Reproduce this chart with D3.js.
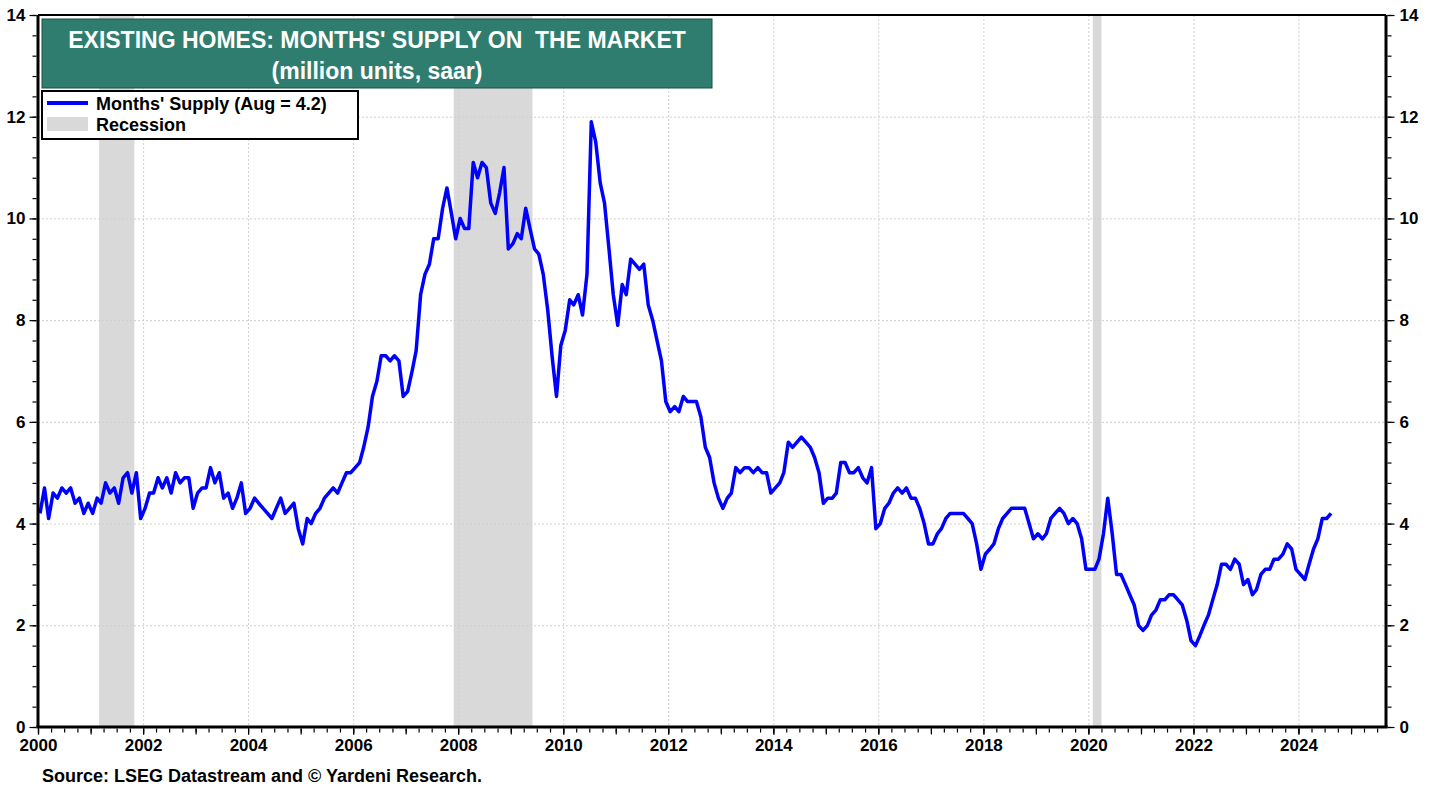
<!DOCTYPE html>
<html>
<head>
<meta charset="utf-8">
<script src="https://cdn.jsdelivr.net/npm/d3@7"></script>
<style>
body { margin: 0; background: #fff; }
svg { display: block; font-family: "Liberation Sans", Arial, sans-serif; font-weight: bold; }
</style>
</head>
<body>
<script>
// monthly months' supply, starting Jan 2000
var startYear = 2000;
var monthsSupply = [
  4.2, 4.7, 4.1, 4.6, 4.5, 4.7, 4.6, 4.7, 4.4, 4.5, 4.2, 4.4,   // 2000
  4.2, 4.5, 4.4, 4.8, 4.6, 4.7, 4.4, 4.9, 5.0, 4.6, 5.0, 4.1,   // 2001
  4.3, 4.6, 4.6, 4.9, 4.7, 4.9, 4.6, 5.0, 4.8, 4.9, 4.9, 4.3,   // 2002
  4.6, 4.7, 4.7, 5.1, 4.8, 5.0, 4.5, 4.6, 4.3, 4.5, 4.8, 4.2,   // 2003
  4.3, 4.5, 4.4, 4.3, 4.2, 4.1, 4.3, 4.5, 4.2, 4.3, 4.4, 3.9,   // 2004
  3.6, 4.1, 4.0, 4.2, 4.3, 4.5, 4.6, 4.7, 4.6, 4.8, 5.0, 5.0,   // 2005
  5.1, 5.2, 5.5, 5.9, 6.5, 6.8, 7.3, 7.3, 7.2, 7.3, 7.2, 6.5,   // 2006
  6.6, 7.0, 7.4, 8.5, 8.9, 9.1, 9.6, 9.6, 10.2, 10.6, 10.1, 9.6, // 2007
  10.0, 9.8, 9.8, 11.1, 10.8, 11.1, 11.0, 10.3, 10.1, 10.5, 11.0, 9.4, // 2008
  9.5, 9.7, 9.6, 10.2, 9.8, 9.4, 9.3, 8.9, 8.2, 7.3, 6.5, 7.5,  // 2009
  7.8, 8.4, 8.3, 8.5, 8.1, 8.9, 11.9, 11.5, 10.7, 10.3, 9.4, 8.5, // 2010
  7.9, 8.7, 8.5, 9.2, 9.1, 9.0, 9.1, 8.3, 8.0, 7.6, 7.2, 6.4,   // 2011
  6.2, 6.3, 6.2, 6.5, 6.4, 6.4, 6.4, 6.1, 5.5, 5.3, 4.8, 4.5,   // 2012
  4.3, 4.5, 4.6, 5.1, 5.0, 5.1, 5.1, 5.0, 5.1, 5.0, 5.0, 4.6,   // 2013
  4.7, 4.8, 5.0, 5.6, 5.5, 5.6, 5.7, 5.6, 5.5, 5.3, 5.0, 4.4,   // 2014
  4.5, 4.5, 4.6, 5.2, 5.2, 5.0, 5.0, 5.1, 4.9, 4.8, 5.1, 3.9,   // 2015
  4.0, 4.3, 4.4, 4.6, 4.7, 4.6, 4.7, 4.5, 4.5, 4.3, 4.0, 3.6,   // 2016
  3.6, 3.8, 3.9, 4.1, 4.2, 4.2, 4.2, 4.2, 4.1, 4.0, 3.6, 3.1,   // 2017
  3.4, 3.5, 3.6, 3.9, 4.1, 4.2, 4.3, 4.3, 4.3, 4.3, 4.0, 3.7,   // 2018
  3.8, 3.7, 3.8, 4.1, 4.2, 4.3, 4.2, 4.0, 4.1, 4.0, 3.7, 3.1,   // 2019
  3.1, 3.1, 3.3, 3.8, 4.5, 3.8, 3.0, 3.0, 2.8, 2.6, 2.4, 2.0,   // 2020
  1.9, 2.0, 2.2, 2.3, 2.5, 2.5, 2.6, 2.6, 2.5, 2.4, 2.1, 1.7,   // 2021
  1.6, 1.8, 2.0, 2.2, 2.5, 2.8, 3.2, 3.2, 3.1, 3.3, 3.2, 2.8,   // 2022
  2.9, 2.6, 2.7, 3.0, 3.1, 3.1, 3.3, 3.3, 3.4, 3.6, 3.5, 3.1,   // 2023
  3.0, 2.9, 3.2, 3.5, 3.7, 4.1, 4.1, 4.2                        // 2024
];

// recessions as [year, month index]
var recessionStarts = [[2001, 2], [2007, 11], [2020, 1]];
var recessionEnds   = [[2001, 10], [2009, 5], [2020, 3]];

var yearLabels = d3.range(2000, 2025, 2);
var valueTicks = [0, 2, 4, 6, 8, 10, 12, 14];

var titleLines = ["EXISTING HOMES: MONTHS' SUPPLY ON\u00a0 THE MARKET", "(million units, saar)"];
var legendLabels = ["Months' Supply (Aug = 4.2)", "Recession"];
var sourceText = "Source: LSEG Datastream and \u00a9 Yardeni Research.";

var width = 1438, height = 787;
var margin = {top: 15, right: 52, bottom: 60, left: 38};

var svg = d3.select("body").append("svg")
    .attr("width", width)
    .attr("height", height);

var x = d3.scaleTime()
    .domain([new Date(2000, 0, 1), new Date(2025, 8, 1)])
    .range([margin.left, width - margin.right]);

var y = d3.scaleLinear()
    .domain([0, 14])
    .range([height - margin.bottom, margin.top]);

var x0 = margin.left, x1 = width - margin.right;
var y0 = height - margin.bottom, y1 = margin.top;

// recession bands
svg.append("g").selectAll("rect")
    .data(recessionStarts)
    .enter().append("rect")
    .attr("x", function(d){ return x(new Date(d[0], d[1], 1)); })
    .attr("width", function(d, i){
        var e = recessionEnds[i];
        return x(new Date(e[0], e[1], 1)) - x(new Date(d[0], d[1], 1));
    })
    .attr("y", y1)
    .attr("height", y0 - y1)
    .attr("fill", "#d9d9d9");

// grid
var grid = svg.append("g")
    .attr("stroke", "#cfcfcf")
    .attr("stroke-width", 1)
    .attr("stroke-dasharray", "2,2");

grid.selectAll(".hg")
    .data(valueTicks.filter(function(v){ return v > 0 && v < 14; }))
    .enter().append("line")
    .attr("x1", x0).attr("x2", x1)
    .attr("y1", function(d){ return y(d) + 0.5; })
    .attr("y2", function(d){ return y(d) + 0.5; });

grid.selectAll(".vg")
    .data(yearLabels.filter(function(v){ return v > 2000; }))
    .enter().append("line")
    .attr("y1", y1).attr("y2", y0)
    .attr("x1", function(d){ return x(new Date(d, 0, 1)) + 0.5; })
    .attr("x2", function(d){ return x(new Date(d, 0, 1)) + 0.5; });

// series
var series = monthsSupply.map(function(v, i){
    return {date: new Date(startYear, i, 15), value: v};
});

var line = d3.line()
    .x(function(d){ return x(d.date); })
    .y(function(d){ return y(d.value); });

svg.append("path")
    .datum(series)
    .attr("fill", "none")
    .attr("stroke", "#0000ff")
    .attr("stroke-width", 3.5)
    .attr("stroke-linejoin", "round")
    .attr("d", line);

// frame
var frame = svg.append("g").attr("stroke", "#000");
frame.append("line").attr("x1", x0).attr("x2", x1).attr("y1", y1).attr("y2", y1).attr("stroke-width", 2);
frame.append("line").attr("x1", x0 - 1.5).attr("x2", x1 + 1.5).attr("y1", y0).attr("y2", y0).attr("stroke-width", 3);
frame.append("line").attr("x1", x0).attr("x2", x0).attr("y1", y1).attr("y2", y0).attr("stroke-width", 3);
frame.append("line").attr("x1", x1).attr("x2", x1).attr("y1", y1).attr("y2", y0).attr("stroke-width", 3);

function styleAxis(g, size) {
    g.select(".domain").remove();
    g.selectAll("line").attr("stroke", "#000").attr("stroke-width", 1.2);
    g.selectAll("text")
        .attr("fill", "#000")
        .style("font-family", "'Liberation Sans', Arial, sans-serif")
        .style("font-weight", "bold")
        .style("font-size", size + "px");
}

// y axes: minor ticks every 0.4, labelled majors every 2
var minorY = d3.range(0, 14.001, 0.4);
svg.append("g").attr("transform", "translate(" + (x0 - 1.5) + ",0)")
    .call(d3.axisLeft(y).tickValues(minorY).tickSize(4).tickFormat(""))
    .call(styleAxis, 17);
svg.append("g").attr("transform", "translate(" + (x1 + 1.5) + ",0)")
    .call(d3.axisRight(y).tickValues(minorY).tickSize(4).tickFormat(""))
    .call(styleAxis, 17);
svg.append("g").attr("transform", "translate(" + (x0 - 1.5) + ",0)")
    .call(d3.axisLeft(y).tickValues(valueTicks).tickSize(7).tickPadding(4).tickFormat(d3.format("d")))
    .call(styleAxis, 17);
svg.append("g").attr("transform", "translate(" + (x1 + 1.5) + ",0)")
    .call(d3.axisRight(y).tickValues(valueTicks).tickSize(7).tickPadding(5).tickFormat(d3.format("d")))
    .call(styleAxis, 17);

// x axis: quarterly minor ticks, yearly ticks, even-year labels
svg.append("g").attr("transform", "translate(0," + (y0 + 1.5) + ")")
    .call(d3.axisBottom(x).tickValues(d3.timeMonth.every(3).range(new Date(2000, 0, 1), new Date(2025, 8, 2))).tickSize(4).tickFormat(""))
    .call(styleAxis, 17);
svg.append("g").attr("transform", "translate(0," + (y0 + 1.5) + ")")
    .call(d3.axisBottom(x).tickValues(d3.range(2000, 2026).map(function(yr){ return new Date(yr, 0, 1); })).tickSize(6).tickFormat(""))
    .call(styleAxis, 17);
svg.append("g").attr("transform", "translate(0," + (y0 + 1.5) + ")")
    .call(d3.axisBottom(x).tickValues(yearLabels.map(function(yr){ return new Date(yr, 0, 1); })).tickSize(6).tickPadding(4).tickFormat(d3.timeFormat("%Y")))
    .call(styleAxis, 17);

// title box
var title = svg.append("g");
title.append("rect")
    .attr("x", 42).attr("y", 19)
    .attr("width", 670).attr("height", 69)
    .attr("fill", "#2f7d6f")
    .attr("stroke", "#1d4f46")
    .attr("stroke-width", 1);
title.selectAll("text")
    .data(titleLines)
    .enter().append("text")
    .attr("x", 377)
    .attr("y", function(d, i){ return 48 + i * 31; })
    .attr("text-anchor", "middle")
    .attr("fill", "#fff")
    .attr("font-size", "23px")
    .text(function(d){ return d; });

// legend
var legend = svg.append("g");
legend.append("rect")
    .attr("x", 42).attr("y", 91)
    .attr("width", 316).attr("height", 48)
    .attr("fill", "#fff")
    .attr("stroke", "#000")
    .attr("stroke-width", 2);
legend.append("line")
    .attr("x1", 47).attr("x2", 88)
    .attr("y1", 103).attr("y2", 103)
    .attr("stroke", "#0000ff")
    .attr("stroke-width", 4);
legend.append("rect")
    .attr("x", 47).attr("y", 117)
    .attr("width", 41).attr("height", 14)
    .attr("fill", "#d9d9d9");
legend.selectAll("text")
    .data(legendLabels)
    .enter().append("text")
    .attr("x", 96)
    .attr("y", function(d, i){ return 109.5 + i * 21; })
    .attr("font-size", "18px")
    .attr("fill", "#000")
    .text(function(d){ return d; });

// source
svg.append("text")
    .attr("x", 42)
    .attr("y", 782)
    .attr("font-size", "18px")
    .attr("fill", "#000")
    .text(sourceText);
</script>
</body>
</html>
